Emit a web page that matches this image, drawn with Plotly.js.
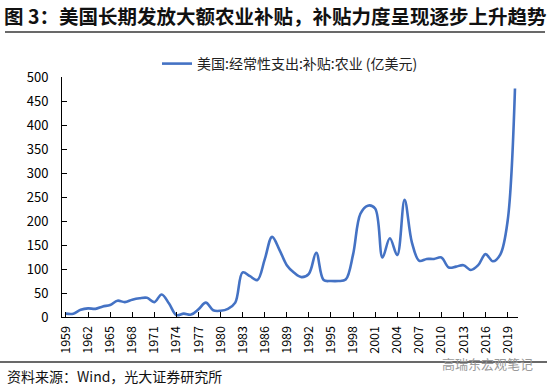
<!DOCTYPE html>
<html>
<head>
<meta charset="utf-8">
<script src="https://cdn.plot.ly/plotly-3.0.1.min.js"></script>
<style>html,body{margin:0;padding:0;background:#fff;}#chart{width:550px;height:388px;}</style>
</head>
<body>
<div id="chart"></div>
<script>
const years = [1959,1960,1961,1962,1963,1964,1965,1966,1967,1968,1969,1970,1971,1972,1973,1974,1975,1976,1977,1978,1979,1980,1981,1982,1983,1984,1985,1986,1987,1988,1989,1990,1991,1992,1993,1994,1995,1996,1997,1998,1999,2000,2001,2002,2003,2004,2005,2006,2007,2008,2009,2010,2011,2012,2013,2014,2015,2016,2017,2018,2019,2020];
const subsidy = [7,7,15,18,17,22,25,34,31,36,39,40,31,47,28,4,7,5,16,30,14,13,17,30,93,85,77,120,167,140,108,92,83,90,134,77,75,75,78,130,215,232,226,124,164,129,244,155,117,121,121,124,103,105,108,98,108,131,116,130,200,476];
const tickYears = [1959,1962,1965,1968,1971,1974,1977,1980,1983,1986,1989,1992,1995,1998,2001,2004,2007,2010,2013,2016,2019];
const seriesName = '美国:经常性支出:补贴:农业 (亿美元)';
const titleText = '图 3：美国长期发放大额农业补贴，补贴力度呈现逐步上升趋势';
const sourceText = '资料来源：Wind，光大证券研究所';
const watermark = '高瑞东宏观笔记';

const FONT = '"Noto Sans CJK SC", "Noto Sans", sans-serif';

const trace = {
  x: years, y: subsidy, type: 'scatter', mode: 'lines', name: seriesName,
  line: {color: '#4472C4', width: 2.6, shape: 'spline', smoothing: 1}
};

// plot area: x 62..518, y 77..317 (height 240)
const layout = {
  width: 550, height: 388,
  margin: {l: 62, r: 32, t: 77, b: 71, autoexpand: false},
  font: {family: FONT, color: '#000', size: 12},
  showlegend: true,
  legend: {orientation: 'h', x: 0.5, xanchor: 'center', yref: 'container', y: 1 - 48/388, yanchor: 'top',
    font: {family: FONT, size: 14, color: '#222'}, bgcolor: 'rgba(0,0,0,0)'},
  title: {text: '<b>' + titleText + '</b>', x: 4/550, xanchor: 'left', xref: 'container',
    yref: 'container', y: 1 - 17/388, yanchor: 'middle', font: {family: FONT, size: 19.5, color: '#111'}},
  xaxis: {
    type: 'linear', range: [1958.46, 2020.41], tickmode: 'array', tickvals: tickYears,
    ticktext: tickYears.map(String), tickangle: -90, ticks: 'inside', ticklen: 5, tickcolor: '#000',
    showline: true, linecolor: '#000', linewidth: 1, showgrid: false, zeroline: false,
    tickfont: {family: FONT, size: 12.5, color: '#000'}, ticklabelstandoff: 3, automargin: false
  },
  yaxis: {
    range: [0, 500], dtick: 50, tick0: 0, ticks: 'inside', ticklen: 5, tickcolor: '#000',
    showline: true, linecolor: '#000', linewidth: 1, showgrid: false, zeroline: false,
    tickfont: {family: FONT, size: 13, color: '#000'}, ticklabelstandoff: 10, automargin: false
  },
  shapes: [
    {type: 'line', xref: 'paper', yref: 'paper', x0: -57/456, x1: 483/456, y0: 1 + 45/240, y1: 1 + 45/240,
      line: {color: 'dimgray', width: 2}},
    {type: 'line', xref: 'paper', yref: 'paper', x0: -62/456, x1: 485/456, y0: -45/240, y1: -45/240,
      line: {color: 'dimgray', width: 2}}
  ],
  annotations: [
    {text: sourceText, xref: 'paper', yref: 'paper', x: -57/456, y: -59/240, xanchor: 'left', yanchor: 'middle',
      showarrow: false, font: {family: FONT, size: 14, color: '#111'}},
    {text: watermark, xref: 'paper', yref: 'paper', x: 378/456, y: -46/240, xanchor: 'left', yanchor: 'middle',
      showarrow: false, font: {family: FONT, size: 13, color: '#9a9a9a'}}
  ]
};

Plotly.newPlot('chart', [trace], layout, {displayModeBar: false});
</script>
</body>
</html>
